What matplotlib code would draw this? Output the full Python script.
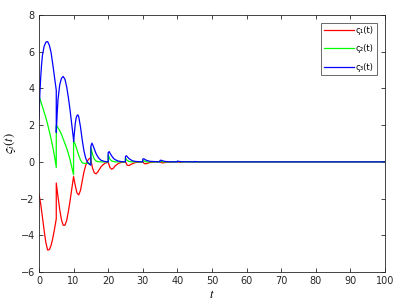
import matplotlib
matplotlib.use("Agg")
import matplotlib.pyplot as plt

# ---- data (duplicated t marks an impulse jump) ----
t_blue = [0, 0.25, 0.5, 0.75, 1.0, 1.5, 2.0, 2.5, 3.0, 3.5, 4.0, 4.5, 5.0,
          5.0, 5.25, 5.5, 6.0, 6.5, 7.0, 7.5, 8.0, 8.5, 9.0, 9.5, 10.0,
          10.0, 10.25, 10.5, 10.75, 11.0, 11.25, 11.5, 12.0, 12.5, 13.0, 13.5, 14.0, 14.5, 15.0,
          15.0, 15.3, 15.6, 16.0, 16.5, 17.0, 17.5, 18.0, 19.0, 20.0,
          20.0, 20.3, 20.6, 21.0, 21.5, 22.0, 23.0, 24.0, 25.0,
          25.0, 25.3, 26.0, 27.0, 28.0, 30.0,
          30.0, 30.3, 31.0, 32.0, 35.0,
          35.0, 35.3, 36.0, 37.0, 40.0,
          40.0, 41.0, 45.0, 45.0, 46.0, 100.0]
s3 = [2.35, 3.7, 4.6, 5.3, 5.8, 6.3, 6.52, 6.55, 6.35, 5.95, 5.3, 4.6, 3.9,
      1.6, 2.6, 3.4, 4.2, 4.55, 4.65, 4.5, 4.1, 3.5, 2.8, 2.0, 1.2,
      1.1, 1.6, 2.1, 2.4, 2.52, 2.56, 2.45, 1.9, 1.2, 0.6, 0.2, 0.0, -0.12, -0.18,
      0.85, 1.02, 0.9, 0.7, 0.45, 0.28, 0.16, 0.08, 0.02, 0.0,
      0.5, 0.56, 0.45, 0.33, 0.2, 0.12, 0.04, 0.01, 0.0,
      0.3, 0.33, 0.18, 0.06, 0.02, 0.0,
      0.15, 0.17, 0.09, 0.03, 0.0,
      0.08, 0.09, 0.04, 0.01, 0.0,
      0.04, 0.01, 0.0, 0.02, 0.0, 0.0]

t_green = [0, 0.5, 1.0, 1.5, 2.0, 2.5, 3.0, 3.5, 4.0, 4.5, 5.0,
           5.0, 5.5, 6.0, 6.5, 7.0, 7.5, 8.0, 8.5, 9.0, 9.5, 10.0,
           10.0, 10.5, 11.0, 11.5, 12.0, 12.5, 13.0, 14.0, 15.0,
           15.0, 15.5, 16.0, 16.5, 17.0, 18.0, 20.0,
           20.0, 20.5, 21.0, 22.0, 25.0,
           25.0, 25.5, 26.0, 27.0, 30.0,
           30.0, 30.5, 31.0, 35.0,
           35.0, 35.5, 36.0, 40.0,
           40.0, 41.0, 100.0]
s2 = [3.6, 3.3, 3.0, 2.7, 2.4, 2.05, 1.65, 1.25, 0.8, 0.3, -0.3,
      2.0, 1.85, 1.7, 1.5, 1.25, 1.0, 0.75, 0.45, 0.1, -0.3, -0.7,
      1.15, 0.95, 0.65, 0.35, 0.1, -0.05, -0.08, -0.08, -0.08,
      0.78, 0.4, 0.15, 0.05, 0.01, 0.0, 0.0,
      0.38, 0.15, 0.05, 0.0, 0.0,
      0.2, 0.08, 0.02, 0.0, 0.0,
      0.1, 0.04, 0.0, 0.0,
      0.05, 0.02, 0.0, 0.0,
      0.025, 0.0, 0.0]

t_red = [0, 0.5, 1.0, 1.5, 2.0, 2.5, 3.0, 3.5, 4.0, 4.5, 5.0,
         5.0, 5.5, 6.0, 6.5, 7.0, 7.5, 8.0, 8.5, 9.0, 9.5, 10.0,
         10.5, 11.0, 11.5, 12.0, 12.5, 13.0, 13.5, 14.0, 14.5, 15.0,
         15.0, 15.5, 16.0, 16.5, 17.0, 17.5, 18.0, 19.0, 20.0,
         20.5, 21.0, 21.5, 22.0, 23.0, 24.0, 25.0,
         25.5, 26.0, 27.0, 28.0, 30.0,
         30.5, 31.0, 32.0, 33.0, 35.0,
         35.5, 36.0, 37.0, 40.0,
         40.5, 41.0, 42.0, 100.0]
s1 = [-1.75, -2.3, -3.0, -3.75, -4.4, -4.8, -4.78, -4.55, -4.15, -3.65, -3.1,
      -1.15, -1.9, -2.6, -3.15, -3.45, -3.45, -3.2, -2.7, -2.1, -1.45, -0.8,
      -1.3, -1.7, -1.8, -1.55, -1.05, -0.55, -0.2, 0.05, 0.17, 0.22,
      0.1, -0.35, -0.6, -0.65, -0.55, -0.4, -0.25, -0.08, -0.02,
      -0.3, -0.4, -0.35, -0.22, -0.08, -0.02, 0.0,
      -0.18, -0.2, -0.1, -0.03, 0.0,
      -0.1, -0.1, -0.04, -0.01, 0.0,
      -0.05, -0.05, -0.02, 0.0,
      -0.02, -0.02, 0.0, 0.0]

labels = ["ς₁(t)", "ς₂(t)", "ς₃(t)"]
x_ticks = list(range(0, 101, 10))
y_ticks = list(range(-6, 9, 2))

plt.rcParams['font.family'] = ['DejaVu Sans']
plt.rcParams['mathtext.fontset'] = 'stix'

fig = plt.figure(figsize=(4.06, 3.05), dpi=100)
ax = fig.add_axes([0.096, 0.108, 0.852, 0.843])

ax.plot(t_red, s1, color=(1, 0, 0), lw=0.9, label=labels[0])
ax.plot(t_green, s2, color=(0, 1, 0), lw=0.9, label=labels[1])
ax.plot(t_blue, s3, color=(0, 0, 1), lw=0.9, label=labels[2])

ax.set_xlim(0, 100)
ax.set_ylim(-6, 8)
ax.set_xticks(x_ticks)
ax.set_yticks(y_ticks)
ax.tick_params(direction='in', length=3, width=0.6, labelsize=7,
               top=True, right=True, colors='#262626', pad=3)
for sp in ax.spines.values():
    sp.set_linewidth(0.6)
    sp.set_color('#262626')

ax.set_xlabel(r"$t$", fontsize=9, labelpad=1)
ax.set_ylabel(r"$\varsigma_i(t)$", fontsize=9, labelpad=2)

leg = ax.legend(loc='upper right', fontsize=6, frameon=True, fancybox=False,
                edgecolor='#262626', handlelength=3.6, borderpad=0.4,
                labelspacing=1.1, handletextpad=0.2, borderaxespad=0,
                bbox_to_anchor=(0.977, 0.969))
leg.get_frame().set_linewidth(0.6)

fig.savefig("out.png", dpi=100)
